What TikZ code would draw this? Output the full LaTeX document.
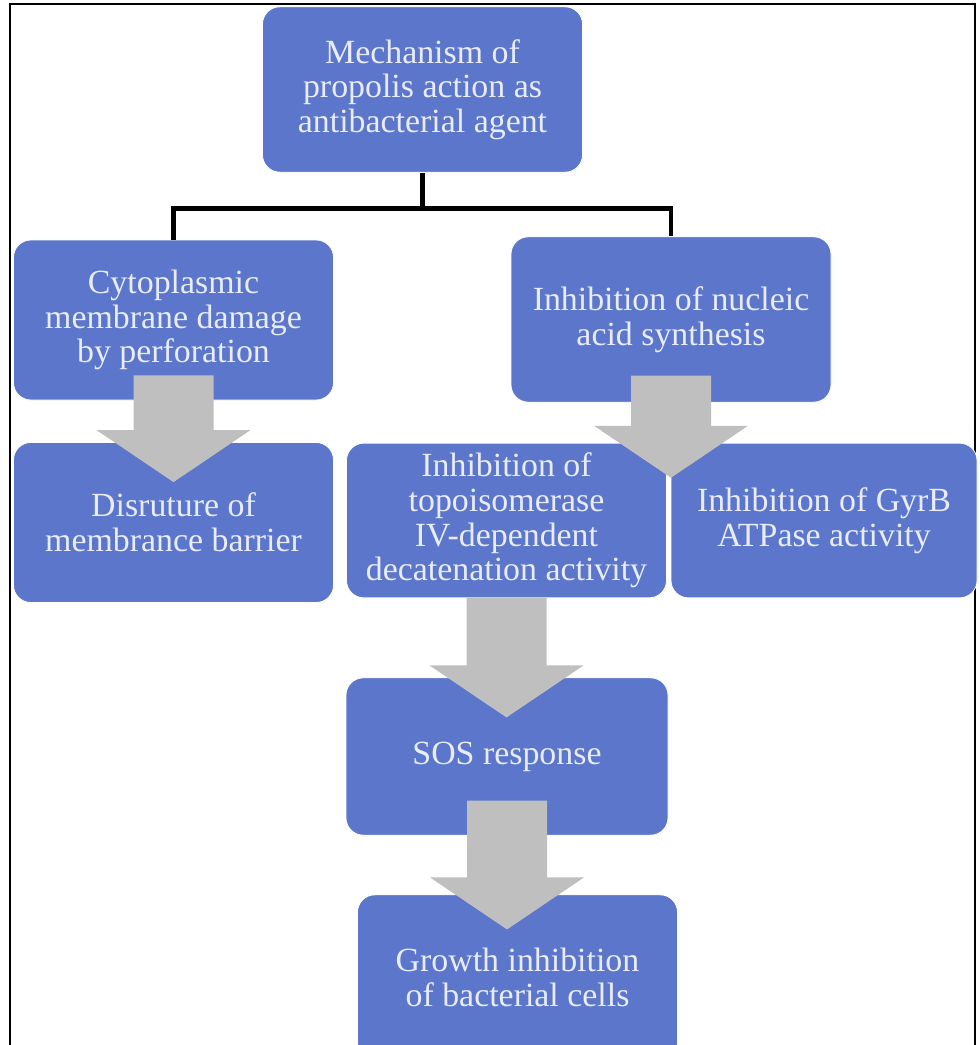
\documentclass[tikz,border=0pt]{standalone}
\usepackage{fontspec}
\setmainfont{Liberation Serif}
\usetikzlibrary{calc}
\definecolor{boxblue}{RGB}{91,118,203}
\definecolor{boxtext}{RGB}{232,236,252}
\definecolor{arrowgray}{RGB}{191,191,191}
\tikzset{
  stepbox/.style={rounded corners=13pt, fill=boxblue, draw=white, line width=0.6pt,
    text=boxtext, align=center, minimum width=240pt, minimum height=120pt,
    inner sep=2pt, font=\fontsize{25.4}{26}\selectfont},
  bigarrow/.style={fill=arrowgray},
  tree/.style={line width=3.3pt, black}
}
% block arrow: source node, target node, rise into source, reach into target
\newcommand{\blockarrow}[4]{%
  \coordinate (ar top) at ($(#1.south)+(0,-#3)$);
  \coordinate (ar tip) at ($(ar top |- #2.north)+(0,#4)$);
  \fill[bigarrow] ($(ar top)+(-40,0)$) -- ($(ar top)+(40,0)$) -- ($(ar tip)+(40,-52)$)
    -- ($(ar tip)+(77,-52)$) -- (ar tip) -- ($(ar tip)+(-77,-52)$) -- ($(ar tip)+(-40,-52)$) -- cycle;
}
\begin{document}
\begin{tikzpicture}[x=0.75pt,y=0.75pt,yscale=-1,xscale=1]
\useasboundingbox (0,0) rectangle (979,1045);
\clip (0,0) rectangle (979,1045);

%Shape: Frame
\draw [line width=1.1pt] (10,1070) -- (10,4) -- (975,4) -- (975,1070);

%Rounded Rect: top
\node (mech) [stepbox, minimum height=124pt] at (422.5,89.5) {Mechanism of\\propolis action as\\antibacterial agent};
%Rounded Rect: first level
\node (cyto) [stepbox] at (173.5,320) {Cytoplasmic\\membrane damage\\by perforation};
\node (nucl) [stepbox, minimum height=124pt] at (671,319.5) {Inhibition of nucleic\\acid synthesis};
%Rounded Rect: second level
\node (barr) [stepbox] at (173.5,522.5) {Disruture of\\membrance barrier};
\node (topo) [stepbox, minimum height=116pt] at (506.5,520.5) {Inhibition of\\topoisomerase\\IV-dependent\\decatenation activity};
\node (gyrb) [stepbox, minimum width=229.5pt, minimum height=116pt] at (824,520.5) {Inhibition of GyrB\\ATPase activity};
%Rounded Rect: lower chain
\node (sos) [stepbox, minimum width=241.5pt, minimum height=118pt] at (507,756.5) {SOS response};
\node (grow) [stepbox, minimum height=124pt] at (517.5,977.5) {Growth inhibition\\of bacterial cells};

%Connector: tree
\draw [tree] (mech.south) -- ++(0,36) coordinate (bus);
\draw [tree] (cyto.north) |- (bus) -| (nucl.north);

%Block arrows
\blockarrow{cyto}{barr}{25}{40}
\blockarrow{nucl}{topo}{27}{35}
\blockarrow{topo}{sos}{0}{40}
\blockarrow{sos}{grow}{35}{35}

\end{tikzpicture}
\end{document}
